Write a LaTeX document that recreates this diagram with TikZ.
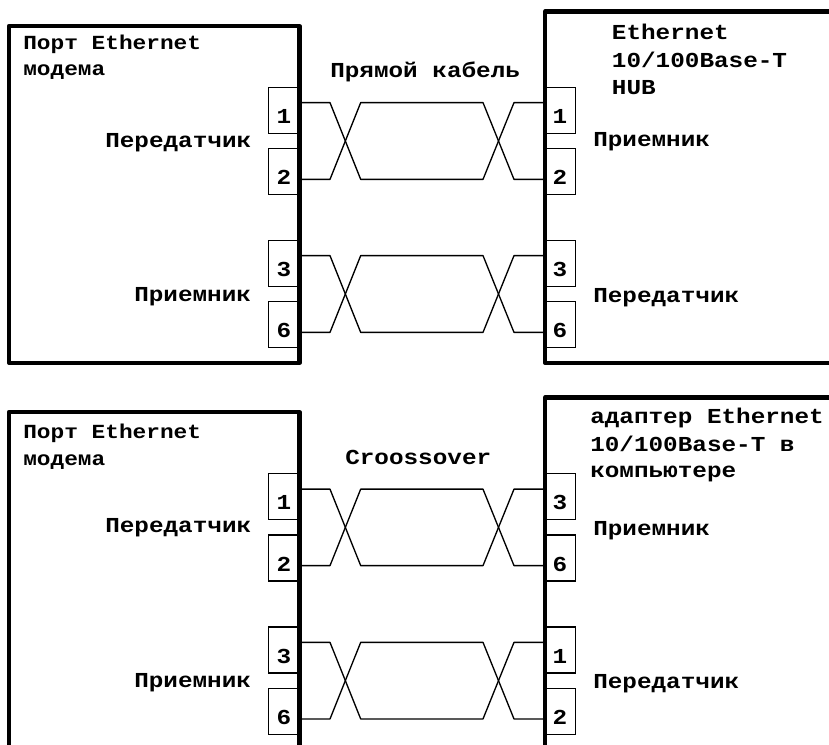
\documentclass[tikz,border=0pt]{standalone}
\usepackage{fontspec}
\setmainfont[FakeStretch=1.14]{Liberation Mono}
\tikzset{
 wall/.style={line width=3.1pt,line join=round,line cap=round},
 pinbox/.style={draw,line width=1pt,minimum width=23pt,minimum height=34.5pt,inner sep=0pt},
 pinnum/.style={font=\bfseries\fontsize{16}{16}\selectfont,inner sep=0pt,anchor=base},
 lbl/.style={font=\bfseries\fontsize{16}{16}\selectfont,inner sep=0pt,anchor=base west},
 lbs/.style={font=\bfseries\fontsize{15}{15}\selectfont,inner sep=0pt,anchor=base west},
 wire/.style={line width=1pt,line join=round}
}
\begin{document}
\begin{tikzpicture}[x=0.75pt,y=-0.75pt]
\useasboundingbox (0,0) rectangle (829,745);
\fill[white] (0,0) rectangle (829,745);
% pins
\foreach \nm/\xc/\yc/\t in {a/284/110.25/1,b/284/171.75/2,c/284/263.25/3,d/284/324.75/6,e/560/110.25/1,f/560/171.75/2,g/560/263.25/3,h/560/324.75/6,
 i/284/496.8/1,j/284/558/2,k/284/650/3,l/284/711.3/6,m/560/496.8/3,n/560/558/6,o/560/650/1,p/560/711.3/2}{
 \node[pinbox] (\nm) at (\xc,\yc) {};
 \node[pinnum] (num\nm) at ([yshift=-9.8pt]\nm.center) {\t};
}
% columns of the crossings
\coordinate (cA) at (330,0);
\coordinate (cB) at (360.7,0);
\coordinate (cC) at (483,0);
\coordinate (cD) at (514,0);
% wires
\foreach \u/\v/\w/\z in {a/b/e/f,c/d/g/h,i/j/m/n,k/l/o/p}{
 \coordinate (\u t) at ([yshift=5.74pt]\u.east);
 \coordinate (\v t) at ([yshift=-5.74pt]\v.east);
 \coordinate (\w t) at ([yshift=5.74pt]\w.west);
 \coordinate (\z t) at ([yshift=-5.74pt]\z.west);
 \draw[wire] (\u t)--(\u t -| cA)--(\v t -| cB)--(\z t -| cC)--(\w t -| cD)--(\w t);
 \draw[wire] (\v t)--(\v t -| cA)--(\u t -| cB)--(\w t -| cC)--(\z t -| cD)--(\z t);
}
% walls
\draw[wall] (9,26)--(299.5,26)--(299.5,363)--(9,363)--cycle;
\draw[wall] (830,11.5)--(545,11.5)--(545,363)--(830,363);
\draw[wall] (9,747)--(9,412)--(299.5,412)--(299.5,747);
\draw[wall] (830,397.5)--(545,397.5)--(545,747);
% labels
\node[lbs] (t1a) at (23,50) {Порт Ethernet};
\node[lbs] (t1b) at (23,76) {модема};
\node[lbl] (t2) at (330,77.7) {Прямой кабель};
\node[lbl] (t3a) at (611.7,39.3) {Ethernet};
\node[lbl] (t3b) at (611.7,68) {10/100Base-T};
\node[lbl] (t3c) at (611.7,94.3) {HUB};
\node[lbl] (t4) at (105,147.3) {Передатчик};
\node[lbl] (t5) at (593,146.7) {Приемник};
\node[lbl] (t6) at (134,302) {Приемник};
\node[lbl] (t7) at (593,302.7) {Передатчик};
\node[lbs] (t8a) at (23,438.3) {Порт Ethernet};
\node[lbs] (t8b) at (23,465) {модема};
\node[lbl] (t9) at (345,464.3) {Croossover};
\node[lbl] (t10a) at (590,423.3) {адаптер Ethernet};
\node[lbl] (t10b) at (590,451) {10/100Base-T в};
\node[lbl] (t10c) at (590,477.7) {компьютере};
\node[lbl] (t11) at (105,532.3) {Передатчик};
\node[lbl] (t12) at (593,535.7) {Приемник};
\node[lbl] (t13) at (134,687.3) {Приемник};
\node[lbl] (t14) at (593,688.3) {Передатчик};
\end{tikzpicture}
\end{document}
